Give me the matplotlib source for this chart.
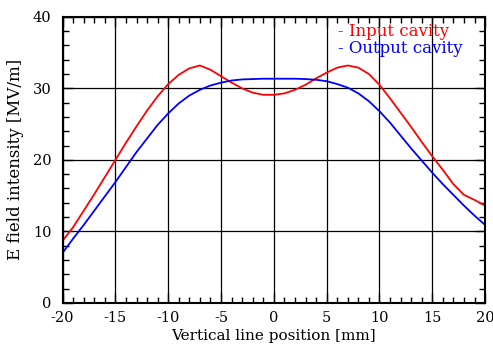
import numpy as np
import matplotlib
matplotlib.use("Agg")
import matplotlib.pyplot as plt
from matplotlib.ticker import MultipleLocator

# vertical line position [mm]
position = np.arange(-20, 21, 1)

# E field intensity [MV/m]
input_cavity = [8.7, 10.6, 12.9, 15.2, 17.6, 20.0, 22.4, 24.7, 26.9, 28.9,
                30.6, 31.9, 32.8, 33.2, 32.6, 31.7, 30.8, 30.0, 29.4, 29.1,
                29.1, 29.3, 29.8, 30.5, 31.4, 32.2, 32.9, 33.2, 32.9, 32.0,
                30.5, 28.6, 26.6, 24.6, 22.5, 20.5, 18.6, 16.6, 15.1, 14.4,
                13.6]
output_cavity = [7.0, 9.0, 10.9, 12.9, 14.9, 16.9, 19.0, 21.1, 23.0, 24.9,
                 26.5, 27.9, 29.0, 29.8, 30.4, 30.8, 31.1, 31.25, 31.3, 31.35,
                 31.35, 31.35, 31.35, 31.3, 31.2, 31.0, 30.6, 30.1, 29.3, 28.2,
                 26.8, 25.2, 23.4, 21.6, 19.9, 18.2, 16.6, 15.1, 13.6, 12.2,
                 10.9]

plt.rcParams['font.family'] = ['DejaVu Serif']
plt.rcParams['font.size'] = 11
plt.rcParams['axes.unicode_minus'] = False

fig = plt.figure(figsize=(4.93, 3.51), dpi=100)
ax = fig.add_axes([0.127, 0.137, 0.857, 0.815])

ax.plot(position, input_cavity, color='red', lw=1.3)
ax.plot(position, output_cavity, color='blue', lw=1.3)

ax.set_xlim(-20, 20)
ax.set_ylim(0, 40)
ax.xaxis.set_major_locator(MultipleLocator(5))
ax.xaxis.set_minor_locator(MultipleLocator(1))
ax.yaxis.set_major_locator(MultipleLocator(10))
ax.yaxis.set_minor_locator(MultipleLocator(2))
ax.tick_params(which='both', direction='in', top=True, right=True,
               labelsize=10.5)
ax.tick_params(which='major', length=7, width=1)
ax.tick_params(which='minor', length=4, width=1)
ax.tick_params(axis='y', pad=8)
ax.tick_params(axis='x', pad=6)
ax.grid(True, which='major', color='black', lw=0.9)
for s in ax.spines.values():
    s.set_linewidth(1.5)

ax.set_xlabel('Vertical line position [mm]', labelpad=3)
ax.set_ylabel('E field intensity [MV/m]', labelpad=6, fontsize=12)

ax.text(0.652, 0.948, '- Input cavity', color='red', transform=ax.transAxes,
        va='center', ha='left', fontsize=12)
ax.text(0.652, 0.889, '- Output cavity', color='blue', transform=ax.transAxes,
        va='center', ha='left', fontsize=12)

fig.savefig('out.png', dpi=100)
